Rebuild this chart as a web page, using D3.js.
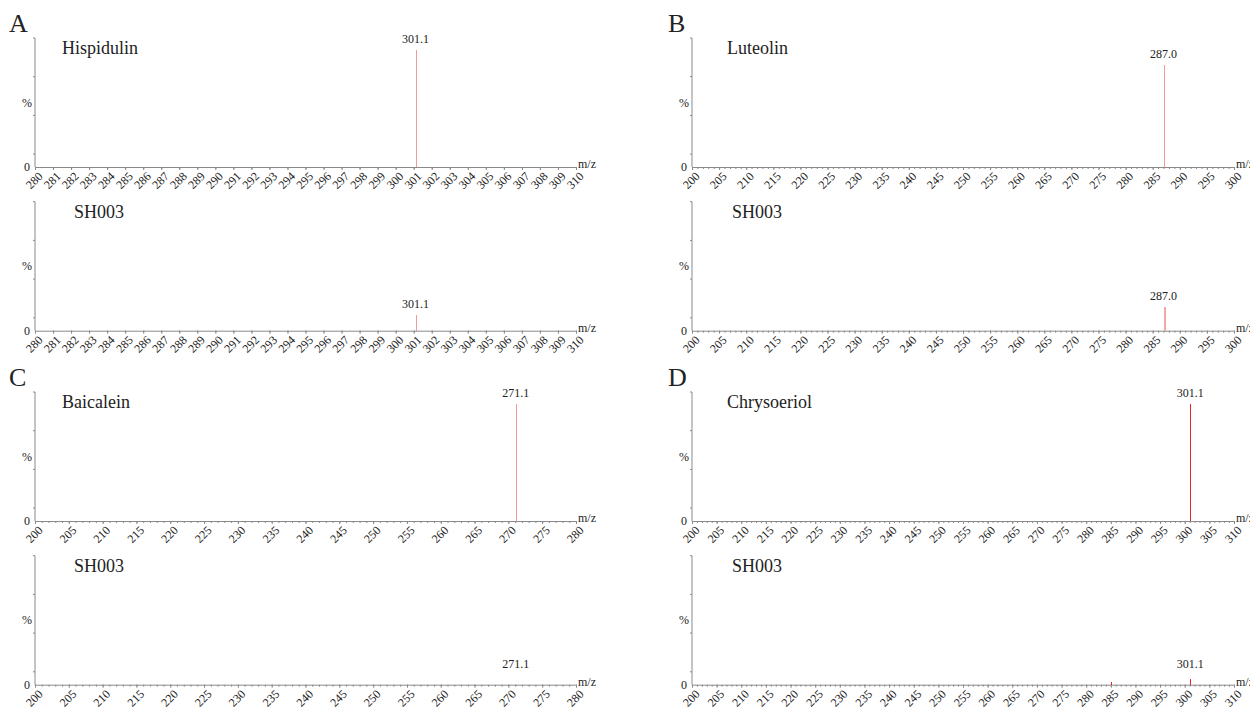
<!DOCTYPE html>
<html><head><meta charset="utf-8">
<script src="https://cdn.jsdelivr.net/npm/d3@7"></script>
<style>
html,body{margin:0;padding:0;background:#fff;}
svg{display:block;font-family:"Liberation Serif","Times New Roman",serif;}
</style></head>
<body><svg id="c" width="1250" height="710"></svg>
<script>
// ---- data ----
const panelLetters = ["A", "B", "C", "D"];
const compounds = ["Hispidulin", "Luteolin", "Baicalein", "Chrysoeriol"];
const sampleName = "SH003";
const mzMin = [280, 200, 200, 200];
const mzMax = [310, 300, 280, 310];
const mzLabelStep = [1, 5, 5, 5];
const mzMinorStep = [1, 1, 1, 1];
// peaks: [m/z, relative intensity %]
const standardPeaks = [
  [[301.1, 91]],
  [[287.0, 79]],
  [[271.1, 91]],
  [[301.1, 91]]
];
const samplePeaks = [
  [[301.1, 12]],
  [[287.0, 18]],
  [[271.1, 0.8]],
  [[285.0, 2], [301.1, 4.5]]
];
const standardLabels = ["301.1", "287.0", "271.1", "301.1"];
const sampleLabels = ["301.1", "287.0", "271.1", "301.1"];

// ---- layout ----
const svg = d3.select("#c");
const colX = [[35, 576], [692, 1234]];
const rowTop = [38, 392];
const plotH = 129;
const subGap = 163.7;
const peakColStd = ["#f29a9a", "#f29a9a", "#f29a9a", "#e8262a"];
const peakColSmp = ["#f29a9a", "#f7a5a5", "#f29a9a", "#e8262a"];
const peakWStd = [1, 1, 1.5, 1.5];
const peakWSmp = [1, 2, 1, 1.5];
const axisCol = "#8a8a8a";
const textCol = "#222";

function drawSpectrum(i, top, name, peaks, labelText, color, width) {
  const col = i % 2;
  const [x0, x1] = colX[col];
  const g = svg.append("g");
  const x = d3.scaleLinear().domain([mzMin[i], mzMax[i]]).range([x0, x1]);
  const y = d3.scaleLinear().domain([0, 100]).range([top + plotH, top]);
  const base = top + plotH;

  // y axis line and minor ticks
  g.append("line").attr("x1", x0).attr("x2", x0).attr("y1", top).attr("y2", base)
    .attr("stroke", axisCol).attr("stroke-width", 1);
  const yt = [100, 70, 40, 10];
  g.selectAll(".yt").data(yt).enter().append("line")
    .attr("x1", x0 - 2).attr("x2", x0).attr("y1", d => y(d)).attr("y2", d => y(d))
    .attr("stroke", axisCol).attr("stroke-width", 1);
  g.append("text").attr("x", x0 - 5).attr("y", base).attr("dy", "0.35em")
    .attr("text-anchor", "end").attr("font-size", 12).attr("fill", textCol).text("0");
  g.append("text").attr("x", x0 - 3).attr("y", y(50)).attr("dy", "0.35em")
    .attr("text-anchor", "end").attr("font-size", 12).attr("fill", textCol).text("%");

  // x axis
  const minorTicks = d3.range(mzMin[i], mzMax[i] + 0.001, mzMinorStep[i]);
  const majorTicks = d3.range(mzMin[i], mzMax[i] + 0.001, mzLabelStep[i]);
  const ax = d3.axisBottom(x).tickValues(minorTicks).tickSize(2).tickFormat("");
  const axg = g.append("g").attr("transform", `translate(0,${base})`).call(ax);
  axg.select(".domain").attr("stroke", axisCol);
  axg.selectAll(".tick line").attr("stroke", axisCol);
  const ax2 = d3.axisBottom(x).tickValues(majorTicks).tickSize(3).tickFormat(d3.format("d"));
  const axg2 = g.append("g").attr("transform", `translate(0,${base})`).call(ax2);
  axg2.attr("font-family", null);
  axg2.select(".domain").remove();
  axg2.selectAll(".tick line").attr("stroke", axisCol);
  axg2.selectAll(".tick text")
    .attr("font-family", "Liberation Serif, serif").attr("font-size", 12).attr("fill", textCol)
    .attr("text-anchor", "end").attr("transform", "translate(5,7) rotate(-45)")
    .attr("dy", "0.35em").attr("y", 0).attr("x", 0);

  g.append("text").attr("x", x1 + 2).attr("y", base + 1).attr("font-size", 12)
    .attr("fill", textCol).text("m/z");

  // peaks
  g.selectAll(".pk").data(peaks).enter().append("line")
    .attr("x1", d => Math.round(x(d[0])) + 0.5).attr("x2", d => Math.round(x(d[0])) + 0.5)
    .attr("y1", base).attr("y2", d => y(d[1]))
    .attr("stroke", color).attr("stroke-width", width)
    .attr("shape-rendering", "crispEdges");
  const main = peaks.reduce((a, b) => (b[1] > a[1] ? b : a));
  g.append("text").attr("x", x(main[0])).attr("y", Math.min(y(main[1]), base - 10) - 7)
    .attr("text-anchor", "middle").attr("font-size", 12).attr("fill", textCol).text(labelText);

  // compound name
  g.append("text").attr("x", x0 + (name === sampleName ? (col ? 40 : 39) : (col ? 35 : 27)))
    .attr("y", top + 16).attr("font-size", 18).attr("fill", textCol).text(name);
}

panelLetters.forEach((L, i) => {
  const col = i % 2, row = Math.floor(i / 2);
  const top = rowTop[row];
  svg.append("text").attr("x", col ? 668 : 9).attr("y", top - 6)
    .attr("font-size", 26).attr("fill", textCol).text(L);
  drawSpectrum(i, top, compounds[i], standardPeaks[i], standardLabels[i], peakColStd[i], peakWStd[i]);
  drawSpectrum(i, top + subGap, sampleName, samplePeaks[i], sampleLabels[i], peakColSmp[i], peakWSmp[i]);
});
</script></body></html>
